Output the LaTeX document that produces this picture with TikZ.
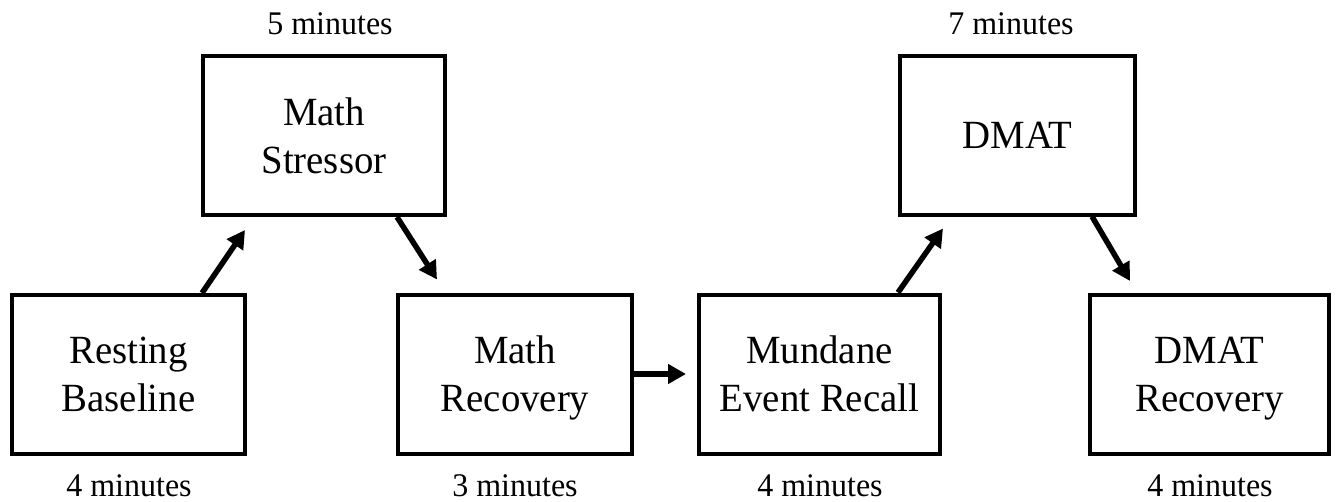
\documentclass[tikz,border=0pt]{standalone}
\usepackage{fontspec}
\setmainfont[FakeStretch=0.97]{Liberation Serif}
\usetikzlibrary{arrows.meta}
\tikzset{
  stepbox/.style={draw=black, line width=4pt, rectangle, inner sep=0pt,
    minimum height=159pt, align=center, font=\fontsize{40}{48}\selectfont},
  dur/.style={anchor=base, inner sep=0pt, font=\fontsize{33}{38}\selectfont},
  arr/.style={line width=5.5pt, -{Triangle[length=18pt,width=19pt]}}
}
\begin{document}
\begin{tikzpicture}[x=1pt,y=-1pt]
\useasboundingbox (0,0) rectangle (1339,501);
% boxes
\node[stepbox, minimum width=233pt] (rest)   at (128.5,374.5) {Resting\\Baseline};
\node[stepbox, minimum width=242pt] (stress) at (324,135.5)   {Math\\Stressor};
\node[stepbox, minimum width=234pt] (mrec)   at (515,374)     {Math\\\smash{Recovery}};
\node[stepbox, minimum width=241pt] (mund)   at (819.5,374)   {Mundane\\Event Recall};
\node[stepbox, minimum width=235pt] (dmat)   at (1017.5,135)  {DMAT};
\node[stepbox, minimum width=239pt] (drec)   at (1209.5,374.5){DMAT\\\smash{Recovery}};
% durations
\node[dur] (t1) at (330,34)   {5 minutes};
\node[dur] (t2) at (1011,34)  {7 minutes};
\node[dur] (b1) at (129,496)  {4 minutes};
\node[dur] (b2) at (515,496)  {3 minutes};
\node[dur] (b3) at (820,496)  {4 minutes};
\node[dur] (b4) at (1210,496) {4 minutes};
% arrow end points
\coordinate (a1s) at ([xshift=73.5pt]rest.north);
\coordinate (a1e) at ([xshift=-79pt,yshift=-13pt]stress.south);
\coordinate (a2s) at ([xshift=73pt]stress.south);
\coordinate (a2e) at ([xshift=-78pt,yshift=13pt]mrec.north);
\coordinate (a3e) at ([xshift=-11pt]mund.west);
\coordinate (a4s) at ([xshift=78.5pt]mund.north);
\coordinate (a4e) at ([xshift=-74.5pt,yshift=-12pt]dmat.south);
\coordinate (a5s) at ([xshift=74.5pt]dmat.south);
\coordinate (a5e) at ([xshift=-79.5pt,yshift=12pt]drec.north);
% connectors
\draw[arr] (a1s) -- (a1e);
\draw[arr] (a2s) -- (a2e);
\draw[arr] (mrec.east) -- (a3e);
\draw[arr] (a4s) -- (a4e);
\draw[arr] (a5s) -- (a5e);
\end{tikzpicture}
\end{document}
